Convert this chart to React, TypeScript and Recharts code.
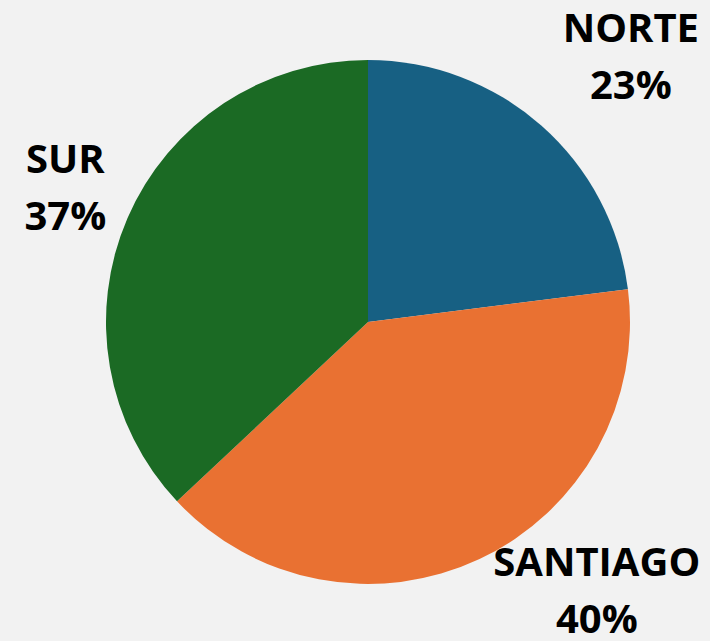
import { PieChart, Pie, Cell } from 'recharts'

const regions = ['NORTE', 'SANTIAGO', 'SUR']
const shares = [23, 40, 37]
const colors = ['#176083', '#E97132', '#1B6A24']
// label placement: distance from centre and angle nudge (degrees) off the slice mid-angle
const labelRadius = [373, 353, 331]
const labelNudge = [-3.4, 15.2, -0.5]

const data = regions.map((name, i) => ({ name, value: shares[i] }))

const RAD = Math.PI / 180

function renderLabel(props: any) {
  const { cx, cy, midAngle, index, name, value } = props
  const a = (midAngle + labelNudge[index]) * RAD
  const x = cx + labelRadius[index] * Math.cos(a)
  const y = cy - labelRadius[index] * Math.sin(a)
  return (
    <text
      x={x}
      y={y}
      textAnchor="middle"
      fill="#000"
      fontFamily="'Open Sans', sans-serif"
      fontWeight={700}
      fontSize={40}
    >
      <tspan x={x} y={y - 15}>{name}</tspan>
      <tspan x={x} y={y + 42}>{`${value}%`}</tspan>
    </text>
  )
}

export default function App() {
  return (
    <div style={{ position: 'absolute', left: 0, top: 0, width: 710, height: 641, background: '#F2F2F2' }}>
      <PieChart width={710} height={641} margin={{ top: 0, right: 0, bottom: 0, left: 0 }}>
        <Pie
          data={data}
          dataKey="value"
          nameKey="name"
          cx={368}
          cy={322}
          outerRadius={262}
          startAngle={90}
          endAngle={-270}
          stroke="none"
          label={renderLabel}
          labelLine={false}
          isAnimationActive={false}
        >
          {data.map((d, i) => (
            <Cell key={d.name} fill={colors[i]} />
          ))}
        </Pie>
      </PieChart>
    </div>
  )
}
